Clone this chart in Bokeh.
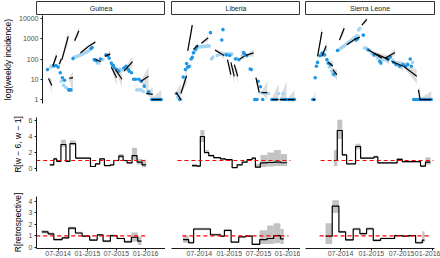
import numpy as np
import pandas as pd
from bokeh.plotting import figure
from bokeh.layouts import column, row
from bokeh.models import Range1d, FixedTicker, DatetimeTickFormatter, PrintfTickFormatter
from bokeh.core.properties import value
from bokeh.embed import file_html
from bokeh.resources import INLINE

# ---------------- data ----------------
countries = ["Guinea", "Liberia", "Sierra Leone"]
x_ticks = ["2014-07-01", "2015-01-01", "2015-07-01", "2016-01-01"]
incidence_ticks = [1, 10, 100, 1000, 10000]
rw_ticks = [0, 2, 4, 6]
retro_ticks = [0, 1, 2, 3, 4]

# Guinea (weeks counted from guinea_start)
guinea_start = "2014-03-20"
guinea_xrange = ["2014-02-15", "2016-05-05"]
guinea_dark_week = [0, 6, 8, 10, 12, 14, 16, 20, 21, 22, 24, 41, 42, 44, 45, 46, 50, 55, 57, 58, 60, 61, 62, 63,
                    65, 67, 72, 74, 76, 77, 79, 81, 83, 86, 88, 91, 95, 98, 99, 100, 101, 102, 103, 104, 105, 106, 107]
guinea_dark_cases = [30, 45, 48, 40, 21, 12, 9, 3, 3, 3, 105, 330, 370, 93, 90, 83, 100, 163, 145, 110, 63, 50, 47, 36,
                     30, 25, 36, 44, 30, 25, 21, 10, 10, 10, 8, 4.6, 2.4, 1, 1, 1, 1, 1, 1, 1, 1, 1, 1]
guinea_light_week = [3, 4, 5, 13, 15, 17, 18, 25, 26, 27, 28, 29, 30, 31, 32, 33, 34, 35, 36, 37, 38, 39, 40,
                     47, 48, 49, 52, 68, 70, 71, 84, 86, 88, 90, 94, 96]
guinea_light_cases = [40, 45, 45, 8, 5, 4, 3.7, 120, 125, 130, 135, 140, 150, 160, 165, 175, 185, 200, 210, 225, 240,
                      260, 285, 63, 70, 77, 93, 32, 28, 32, 3, 3, 3, 2.5, 2, 2.2]
guinea_proj_w0 = [1, 5, 11, 13.5, 20.5, 25.5, 31, 38, 45, 54, 60, 64, 72, 88, 93, 98]
guinea_proj_w1 = [4, 8.5, 13, 19.5, 24, 29.5, 38, 45, 50, 59, 65, 70, 80, 95, 99, 107]
guinea_proj_v0 = [11, 45, 55, 90, 11, 800, 200, 400, 95, 135, 40, 30, 25, 8, 2, 1]
guinea_proj_v1 = [5, 150, 100, 1300, 12, 2500, 400, 700, 75, 180, 12, 10, 75, 14, 1.8, 1]
guinea_proj_lo0 = [9, 40, 48, 78, 9, 680, 185, 370, 88, 125, 35, 27, 22, 7, 1.8, 1]
guinea_proj_hi0 = [13, 52, 62, 105, 13, 940, 215, 430, 102, 145, 45, 33, 28, 9.2, 2.3, 1.15]
guinea_proj_lo1 = [2, 90, 60, 600, 2, 1500, 330, 560, 45, 120, 5, 4, 40, 2, 1, 1]
guinea_proj_hi1 = [10, 260, 170, 2800, 25, 4000, 480, 850, 110, 260, 25, 22, 140, 40, 4, 3]
guinea_rw_week = [7.2, 10.8, 13.4, 17.2, 21.7, 25.3, 30.4, 43.7, 48.2, 52, 56.2, 61.6, 64.6, 69.1, 73, 76.6, 81, 85.5, 90, 93.6]
guinea_rw = [0.46, 1.2, 0.9, 3.0, 0.88, 3.1, 1.3, 0.25, 0.58, 1.2, 0.37, 0.46, 1.0, 1.55, 1.0, 0.7, 1.6, 0.8, 0.45]
guinea_rw_lo = [0.35, 1.05, 0.8, 2.7, 0.8, 2.9, 1.2, 0.18, 0.45, 1.1, 0.3, 0.38, 0.9, 1.35, 0.9, 0.6, 1.1, 0.5, 0.15]
guinea_rw_hi = [0.6, 1.35, 1.0, 3.6, 1.0, 3.5, 1.4, 0.35, 0.7, 1.3, 0.45, 0.55, 1.1, 1.8, 1.1, 0.8, 2.6, 1.2, 1.1]
guinea_retro_week = [0, 5.7, 10.8, 18.3, 24.2, 30.2, 36.2, 43, 49.7, 55, 61.6, 67.6, 74.2, 80.4, 86.1, 89.4]
guinea_retro = [1.34, 1.17, 0.68, 0.83, 1.68, 1.25, 0.97, 0.63, 1.08, 0.54, 1.03, 0.77, 0.48, 0.88, 0.54]
guinea_retro_lo = [1.2, 1.05, 0.6, 0.75, 1.55, 1.15, 0.9, 0.55, 1.0, 0.45, 0.95, 0.7, 0.4, 0.5, 0.2]
guinea_retro_hi = [1.5, 1.3, 0.78, 0.92, 1.8, 1.35, 1.05, 0.72, 1.15, 0.65, 1.12, 0.85, 0.6, 1.3, 0.95]
guinea_rw_ref = [-5, 94.9]
guinea_retro_ref = [-5, 94.9]

# Liberia
liberia_start = "2014-02-09"
liberia_xrange = ["2014-01-10", "2016-03-15"]
liberia_dark_week = [0, 3, 6, 8, 9, 10, 11, 13, 14, 15, 17, 18, 30, 40, 41, 44, 47, 52, 55, 59, 60, 62, 65, 66,
                     69, 70, 71, 72, 74, 76, 84, 86, 88, 93, 95, 97, 99, 101, 103, 104]
liberia_dark_cases = [2, 1, 13, 30, 60, 40, 42, 100, 120, 200, 300, 400, 2000, 870, 2800, 160, 150, 100, 93, 210,
                      180, 145, 32, 30, 1, 1, 1, 8, 4.3, 1, 1, 1, 1, 1, 1, 1, 1, 1, 1, 1]
liberia_light_week = [1, 4, 7, 12, 16, 19, 20, 21, 22, 23, 24, 25, 26, 27, 28, 29, 31, 32, 36, 38, 42, 43, 45, 46,
                      48, 49, 53, 58, 75, 78, 81, 85, 90, 92, 94, 96, 98, 100, 102]
liberia_light_cases = [1.3, 1, 12, 45, 230, 380, 390, 400, 400, 410, 410, 420, 420, 430, 430, 440, 100, 120, 150,
                       170, 175, 170, 175, 180, 180, 175, 110, 145, 2.2, 2, 2, 1, 2, 1, 2, 1, 1, 1, 1]
liberia_proj_w0 = [0, 4, 10, 15, 22, 34, 45, 48, 51, 56, 61, 70, 75, 84, 91, 98]
liberia_proj_w1 = [4, 9, 14, 19, 28, 42, 48, 51, 54, 60, 68, 73, 80, 90, 97, 104]
liberia_proj_v0 = [2.2, 2, 250, 300, 600, 280, 93, 68, 53, 100, 150, 12, 2.2, 1, 1, 1]
liberia_proj_v1 = [1, 15, 4700, 480, 1100, 150, 17, 14, 14, 140, 200, 2.2, 2.2, 1, 1, 1]
liberia_proj_lo0 = [1.9, 1.7, 210, 260, 540, 250, 85, 60, 48, 90, 140, 10, 2, 1, 1, 1]
liberia_proj_hi0 = [2.5, 2.4, 300, 340, 660, 310, 100, 75, 58, 110, 160, 14, 2.4, 1.1, 1.1, 1.1]
liberia_proj_lo1 = [1, 6, 2500, 350, 800, 100, 8, 6, 6, 100, 130, 1, 1, 1, 1, 1]
liberia_proj_hi1 = [6, 35, 8000, 650, 1500, 220, 35, 30, 30, 190, 300, 6, 8, 6, 8, 3]
liberia_rw_week = [13.8, 18.2, 21.1, 24.7, 28.5, 32.9, 38.8, 43.2, 49.1, 53.5, 57.9, 62.3, 66.7, 69.6, 74, 80, 86, 92, 97.5]
liberia_rw = [0.37, 0.3, 4.0, 2.0, 1.6, 1.35, 1.2, 1.1, 0.1, 0.46, 0.8, 1.1, 1.3, 0.17, 0.7, 0.75, 0.8, 0.72]
liberia_rw_lo = [0.2, 0.2, 3.3, 1.8, 1.5, 1.25, 1.1, 1.0, 0.05, 0.38, 0.7, 1.0, 1.2, 0.05, 0.2, 0.25, 0.3, 0.3]
liberia_rw_hi = [0.55, 0.45, 4.8, 2.3, 1.75, 1.45, 1.3, 1.2, 0.2, 0.55, 0.9, 1.2, 1.45, 0.6, 1.7, 2.0, 2.3, 1.8]
liberia_retro_week = [5.9, 10.8, 15.2, 30, 38.8, 42.3, 48.2, 54.9, 60.8, 66.7, 73.4, 79.9, 85.7, 91.6, 94.5]
liberia_retro = [0.68, 0.4, 1.6, 1.1, 0.97, 1.48, 0.46, 0.91, 0.97, 0.26, 0.68, 0.77, 1.03, 0.74]
liberia_retro_lo = [0.4, 0.3, 1.5, 1.0, 0.9, 1.4, 0.4, 0.85, 0.9, 0.2, 0.3, 0.3, 0.35, 0.3]
liberia_retro_hi = [1.0, 0.5, 1.7, 1.2, 1.05, 1.55, 0.52, 0.98, 1.05, 0.35, 1.5, 1.9, 2.1, 1.6]
liberia_rw_ref = [0.9, 100.4]
liberia_retro_ref = [5.3, 98.7]

# Sierra Leone
sl_start = "2014-01-17"
sl_xrange = ["2013-12-04", "2016-01-13"]
sl_dark_week = [0, 1, 2, 3, 4, 6, 8, 10, 12, 13, 15, 18, 21, 37, 38, 43, 47, 52, 57, 58, 63, 64, 66, 69, 71, 74,
                77, 79, 81, 83, 84, 86, 87, 88, 89, 90, 91, 92, 93, 94, 95, 96, 97, 98, 99, 100, 101]
sl_dark_cases = [1, 1, 12, 44, 68, 145, 195, 160, 93, 63, 53, 18, 265, 870, 1000, 1500, 285, 160, 77, 63, 110, 93,
                 125, 68, 53, 44, 53, 44, 53, 100, 44, 1, 1, 1, 1, 1, 1, 1, 1, 1, 1, 1, 1, 1, 1, 1, 1]
sl_light_week = [7, 9, 11, 14, 16, 17, 19, 22, 23, 24, 25, 26, 27, 28, 29, 30, 31, 32, 33, 34, 35, 36, 37, 38, 39,
                 40, 44, 45, 46, 48, 50, 53, 55, 60, 65, 68, 73, 76, 80, 85]
sl_light_cases = [180, 170, 285, 40, 25, 17, 15, 280, 310, 345, 380, 420, 465, 515, 570, 630, 700, 770, 850, 950,
                  1050, 1150, 1280, 1400, 2700, 3300, 350, 350, 330, 250, 195, 150, 110, 93, 110, 90, 63, 60, 60, 68]
sl_proj_w0 = [0, 4, 7.7, 13, 17, 22.7, 29, 36, 41.8, 47.4, 52, 61.6, 67, 77.3, 90, 91]
sl_proj_w1 = [2, 7.7, 11.4, 17, 20.5, 26.7, 37, 40, 46, 58.8, 65, 70, 77, 88.6, 91.5, 101]
sl_proj_v0 = [1, 135, 135, 70, 30, 870, 500, 950, 4700, 285, 195, 110, 77, 44, 3, 1]
sl_proj_v1 = [1, 2200, 450, 45, 17, 3300, 1050, 1200, 9000, 110, 93, 210, 44, 14, 1, 1]
sl_proj_lo0 = [1, 110, 115, 60, 25, 750, 450, 870, 4200, 260, 175, 100, 70, 40, 2.6, 1]
sl_proj_hi0 = [1.1, 160, 155, 80, 35, 1000, 550, 1050, 5200, 310, 215, 120, 85, 50, 3.5, 1.1]
sl_proj_lo1 = [1, 1200, 300, 25, 8, 2000, 800, 900, 6500, 70, 55, 140, 25, 6, 1, 1]
sl_proj_hi1 = [2.6, 4000, 700, 80, 30, 5000, 1400, 1600, 12500, 170, 150, 320, 75, 30, 4, 2.6]
sl_rw_week = [17.9, 20.8, 25.1, 28.8, 36.4, 40.7, 52, 55.4, 71.9, 76.2, 91.8, 96, 100.3]
sl_rw = [1.0, 4.75, 1.7, 0.58, 2.75, 1.3, 1.45, 0.7, 1.15, 0.85, 0.3, 0.8]
sl_rw_lo = [0.3, 3.7, 1.55, 0.5, 2.4, 1.2, 1.3, 0.6, 1.0, 0.75, 0.2, 0.5]
sl_rw_hi = [2.3, 6.1, 1.85, 0.65, 3.1, 1.4, 1.6, 0.8, 1.3, 0.95, 0.4, 1.4]
sl_retro_week = [10.8, 16.5, 22.2, 27.9, 34.4, 40.1, 45.8, 51.5, 57.7, 69.7, 76.2, 81.8, 87.6, 93.3, 95.2]
sl_retro = [0.97, 3.6, 1.34, 0.65, 1.6, 1.2, 1.62, 0.6, 0.77, 1.03, 0.97, 1.03, 0.4, 0.63]
sl_retro_lo = [0.3, 3.0, 1.25, 0.55, 1.5, 1.1, 1.5, 0.5, 0.7, 0.95, 0.9, 0.95, 0.3, 0.4]
sl_retro_hi = [2.1, 4.1, 1.45, 0.75, 1.7, 1.3, 1.75, 0.7, 0.85, 1.1, 1.05, 1.1, 0.5, 1.4]
sl_rw_ref = [6.6, 102.9]
sl_retro_ref = [5.7, 100.3]

# ---------------- helpers ----------------
DAY_MS = 86400000.0


def t(s):
    return pd.Timestamp(s).value / 1e6


def wk(start, weeks):
    return t(start) + np.asarray(weeks, dtype=float) * 7 * DAY_MS


FONT = "Liberation Sans"
DARK = "#2196E3"
LIGHT = "#A5D5F2"
BAND = "#c4c4c4"

panels = [
    dict(start=guinea_start, xr=guinea_xrange,
         dark=(guinea_dark_week, guinea_dark_cases), light=(guinea_light_week, guinea_light_cases),
         proj=(guinea_proj_w0, guinea_proj_w1, guinea_proj_v0, guinea_proj_v1,
               guinea_proj_lo0, guinea_proj_hi0, guinea_proj_lo1, guinea_proj_hi1),
         rw=(guinea_rw_week, guinea_rw, guinea_rw_lo, guinea_rw_hi, guinea_rw_ref),
         retro=(guinea_retro_week, guinea_retro, guinea_retro_lo, guinea_retro_hi, guinea_retro_ref)),
    dict(start=liberia_start, xr=liberia_xrange,
         dark=(liberia_dark_week, liberia_dark_cases), light=(liberia_light_week, liberia_light_cases),
         proj=(liberia_proj_w0, liberia_proj_w1, liberia_proj_v0, liberia_proj_v1,
               liberia_proj_lo0, liberia_proj_hi0, liberia_proj_lo1, liberia_proj_hi1),
         rw=(liberia_rw_week, liberia_rw, liberia_rw_lo, liberia_rw_hi, liberia_rw_ref),
         retro=(liberia_retro_week, liberia_retro, liberia_retro_lo, liberia_retro_hi, liberia_retro_ref)),
    dict(start=sl_start, xr=sl_xrange,
         dark=(sl_dark_week, sl_dark_cases), light=(sl_light_week, sl_light_cases),
         proj=(sl_proj_w0, sl_proj_w1, sl_proj_v0, sl_proj_v1,
               sl_proj_lo0, sl_proj_hi0, sl_proj_lo1, sl_proj_hi1),
         rw=(sl_rw_week, sl_rw, sl_rw_lo, sl_rw_hi, sl_rw_ref),
         retro=(sl_retro_week, sl_retro, sl_retro_lo, sl_retro_hi, sl_retro_ref)),
]

# column geometry: (figure width, left border, right border)
geo = [(165, 36, 0), (135, 6, 0), (140, 5, 6)]


def style_axis(ax):
    ax.axis_line_color = "#1a1a1a"
    ax.axis_line_width = 1
    ax.major_tick_line_color = "#1a1a1a"
    ax.major_tick_out = 2
    ax.major_tick_in = 0
    ax.minor_tick_line_color = None
    ax.major_label_text_font_size = "7px"
    ax.major_label_text_color = "#4d4d4d"
    ax.major_label_text_font = FONT
    ax.major_label_standoff = 2
    ax.axis_label_text_font_size = "8.5px"
    ax.axis_label_text_font_style = "normal"
    ax.axis_label_text_font = FONT
    ax.axis_label_text_color = "black"
    ax.axis_label_standoff = 3


def base_fig(ci, height, mt, mb, yr, ylog=False, xaxis=False):
    width, ml, mr = geo[ci]
    xr = panels[ci]["xr"]
    p = figure(width=width, height=height, output_backend="svg", toolbar_location=None,
               x_axis_type="datetime", y_axis_type=("log" if ylog else "linear"),
               x_range=Range1d(t(xr[0]), t(xr[1])), y_range=Range1d(*yr),
               x_axis_location=("below" if xaxis else None),
               y_axis_location=("left" if ci == 0 else None),
               min_border=0, min_border_left=ml, min_border_right=mr,
               min_border_top=mt, min_border_bottom=mb)
    p.grid.visible = False
    p.outline_line_color = None
    p.background_fill_color = "white"
    p.border_fill_color = "white"
    for ax in p.axis:
        style_axis(ax)
    if xaxis:
        p.xaxis.ticker = FixedTicker(ticks=[t(s) for s in x_ticks])
        p.xaxis.formatter = DatetimeTickFormatter(days="%m-%Y", months="%m-%Y", years="%m-%Y",
                                                  strip_leading_zeros=False)
        p.xaxis.major_label_standoff = 0
        p.xaxis.major_tick_out = 2
    return p


# ---------------- strips ----------------
strips = []
for ci, name in enumerate(countries):
    width, ml, mr = geo[ci]
    s = figure(width=width, height=15, output_backend="svg", toolbar_location=None,
               x_range=Range1d(0, 1), y_range=Range1d(0, 1),
               x_axis_location=None, y_axis_location=None,
               min_border=0, min_border_left=ml, min_border_right=mr,
               min_border_top=1, min_border_bottom=1)
    s.grid.visible = False
    s.outline_line_color = "#333333"
    s.outline_line_width = 1
    s.text(x=[0.5], y=[0.45], text=[name], text_align="center", text_baseline="middle",
           text_font_size="7px", text_font=value(FONT), text_color="#1a1a1a")
    strips.append(s)

# ---------------- incidence row ----------------
tops = []
for ci, pn in enumerate(panels):
    p = base_fig(ci, 95, 0, 7, (0.64, 14000), ylog=True)
    st = pn["start"]
    w0, w1, v0, v1, lo0, hi0, lo1, hi1 = pn["proj"]
    x0 = wk(st, w0)
    x1 = wk(st, w1)
    xs = [[a, b, b, a] for a, b in zip(x0, x1)]
    ys = [[a, b, c, d] for a, b, c, d in zip(lo0, lo1, hi1, hi0)]
    p.patches(xs, ys, fill_color=BAND, fill_alpha=0.6, line_color=None)
    p.scatter(wk(st, pn["light"][0]), pn["light"][1], size=3.6, fill_color=LIGHT, line_color=None)
    p.scatter(wk(st, pn["dark"][0]), pn["dark"][1], size=3.6, fill_color=DARK, line_color=None)
    p.segment(x0=x0, y0=v0, x1=x1, y1=v1, line_color="black", line_width=1.2)
    if ci == 0:
        p.yaxis.ticker = FixedTicker(ticks=incidence_ticks)
        p.yaxis.formatter = PrintfTickFormatter(format="%d")
        p.yaxis.axis_label = "log(weekly incidence)"
    tops.append(p)


def r_panel(p, st, data):
    weeks, vals, lo, hi, ref = data
    x = wk(st, weeks)
    p.quad(left=x[:-1], right=x[1:], bottom=lo, top=hi, fill_color="#bdbdbd", fill_alpha=0.9, line_color=None)
    p.step(x=x, y=list(vals) + [vals[-1]], mode="after", line_color="black", line_width=1.2)
    p.line(x=wk(st, ref), y=[1, 1], line_color="#ff0000", line_dash="4 3", line_width=1.2)


mids = []
for ci, pn in enumerate(panels):
    p = base_fig(ci, 70, 7, 9, (-0.375, 6.375))
    r_panel(p, pn["start"], pn["rw"])
    if ci == 0:
        p.yaxis.ticker = FixedTicker(ticks=rw_ticks)
        p.yaxis.axis_label = "R[w \u2212 6, w \u2212 1]"
    mids.append(p)

bots = []
for ci, pn in enumerate(panels):
    p = base_fig(ci, 78, 16, 9, (-0.1, 4.43), xaxis=True)
    r_panel(p, pn["start"], pn["retro"])
    if ci == 0:
        p.yaxis.ticker = FixedTicker(ticks=retro_ticks)
        p.yaxis.axis_label = "R[retrospective]"
    bots.append(p)

layout = column(row(*strips), row(*tops), row(*mids), row(*bots))
open("out.html", "w").write(file_html(layout, INLINE))
